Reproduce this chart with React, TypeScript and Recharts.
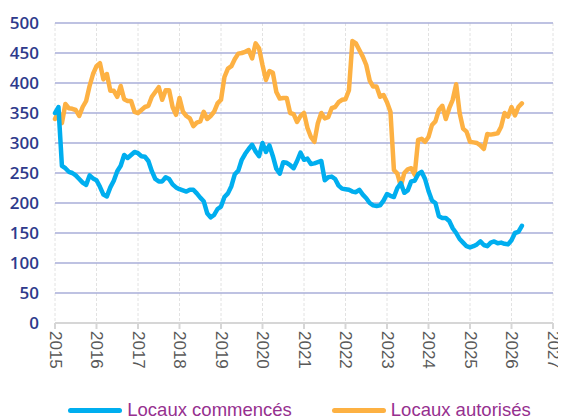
import React from "react";
import {
    LineChart,
    Line,
    XAxis,
    YAxis,
    CartesianGrid,
    Legend,
} from "recharts";

// monthly values, Jan 2015 -> Apr 2026
const startYear = 2015;

const commences = [
    350, 360, 262, 258, 252, 250, 246, 240, 234, 230, 246, 241,
    238, 227, 214, 211, 226, 237, 253, 262, 280, 275, 280, 285,
    283, 278, 277, 270, 253, 240, 236, 236, 243, 240, 231, 226,
    223, 221, 219, 222, 222, 216, 209, 203, 183, 176, 180, 190,
    194, 210, 216, 228, 248, 254, 272, 282, 290, 297, 286, 278,
    300, 285, 296, 278, 257, 249, 268, 267, 263, 258, 270, 284,
    272, 274, 265, 266, 268, 270, 238, 243, 244, 240, 229, 224,
    223, 222, 219, 218, 222, 214, 208, 200, 196, 195, 196, 204,
    215, 212, 210, 225, 233, 217, 221, 236, 237, 248, 252, 240,
    220, 204, 200, 178, 175, 175, 170, 158, 150, 140, 134, 128,
    126, 128, 131, 136, 130, 128, 134, 136, 133, 134, 132, 131,
    138, 150, 152, 162,
];

const autorises = [
    340, 352, 333, 365, 358, 357, 355, 345, 360, 370, 395, 415,
    428, 433, 406, 415, 387, 387, 377, 395, 373, 370, 370, 352,
    350, 355, 360, 362, 377, 385, 393, 372, 388, 388, 360, 347,
    375, 352, 345, 341, 328, 334, 336, 352, 340, 345, 352, 366,
    372, 410, 424, 428, 440, 449, 450, 452, 455, 441, 466, 458,
    430, 405, 420, 417, 385, 374, 375, 375, 350, 348, 335, 345,
    350, 325, 310, 302, 333, 350, 341, 343, 358, 360, 368, 372,
    373, 388, 470, 466, 455, 444, 430, 404, 394, 394, 377, 380,
    368, 352, 255, 249, 228, 250, 256, 258, 247, 305, 307, 302,
    310, 330, 336, 355, 362, 340, 358, 372, 398, 350, 324, 319,
    302, 301, 300, 296, 290, 315, 314, 315, 316, 327, 350, 344,
    360, 346, 360, 366,
];

const years = [2015, 2016, 2017, 2018, 2019, 2020, 2021, 2022, 2023, 2024, 2025, 2026, 2027];
const yTicks = [0, 50, 100, 150, 200, 250, 300, 350, 400, 450, 500];

const data = commences.map((v, i) => ({
    t: startYear + i / 12,
    commences: v,
    autorises: autorises[i],
}));

const BLUE = "#00AEEF";
const ORANGE = "#FDB143";

const YearTick = (props: any) => {
    const { x, y, payload } = props;
    return (
        <text
            x={x}
            y={y}
            transform={`rotate(90, ${x}, ${y})`}
            textAnchor="start"
            dominantBaseline="central"
            fill="#595959"
            fontSize={17}
            fontFamily="'Liberation Sans', Arial, sans-serif"
        >
            {payload.value}
        </text>
    );
};

const LegendContent = () => {
    const item = (color: string, label: string, gap: number) => (
        <div style={{ display: "flex", alignItems: "center", marginRight: gap }}>
            <div
                style={{
                    width: 54,
                    height: 5,
                    borderRadius: 3,
                    background: color,
                    marginRight: 5,
                }}
            />
            <span style={{ color: "#96308F", fontSize: 18.5 }}>{label}</span>
        </div>
    );
    return (
        <div
            style={{
                display: "flex",
                justifyContent: "center",
                fontFamily: "'Liberation Sans', Arial, sans-serif",
                paddingLeft: 38,
                paddingTop: 14,
            }}
        >
            {item(BLUE, "Locaux commencés", 40)}
            {item(ORANGE, "Locaux autorisés", 0)}
        </div>
    );
};

export default function App() {
    return (
        <div style={{ width: 558, height: 411 }}>
            <LineChart
                width={558}
                height={411}
                data={data}
                margin={{ top: 15, right: 13, left: 0, bottom: 0 }}
            >
                <CartesianGrid
                    horizontal={false}
                    stroke="#E2E2E2"
                    strokeDasharray="3 2"
                />
                <CartesianGrid vertical={false} stroke="#A9AED9" strokeWidth={1.5} />
                <XAxis
                    dataKey="t"
                    type="number"
                    domain={[2015, 2027]}
                    ticks={years}
                    interval={0}
                    height={62}
                    stroke="#D6D6D6"
                    strokeWidth={2}
                    tickSize={6}
                    tick={<YearTick />}
                />
                <YAxis
                    domain={[0, 500]}
                    ticks={yTicks}
                    width={47}
                    axisLine={false}
                    tickLine={false}
                    tickMargin={10}
                    tick={{
                        fill: "#2E3A8C",
                        fontSize: 17,
                        fontWeight: 600,
                        fontFamily: "'Open Sans', sans-serif",
                    }}
                />
                <Legend verticalAlign="bottom" height={34} content={<LegendContent />} />
                <Line
                    type="linear"
                    dataKey="autorises"
                    stroke={ORANGE}
                    strokeWidth={4.5}
                    dot={false}
                    strokeLinejoin="round"
                    strokeLinecap="round"
                    isAnimationActive={false}
                />
                <Line
                    type="linear"
                    dataKey="commences"
                    stroke={BLUE}
                    strokeWidth={4.5}
                    dot={false}
                    strokeLinejoin="round"
                    strokeLinecap="round"
                    isAnimationActive={false}
                />
            </LineChart>
        </div>
    );
}
